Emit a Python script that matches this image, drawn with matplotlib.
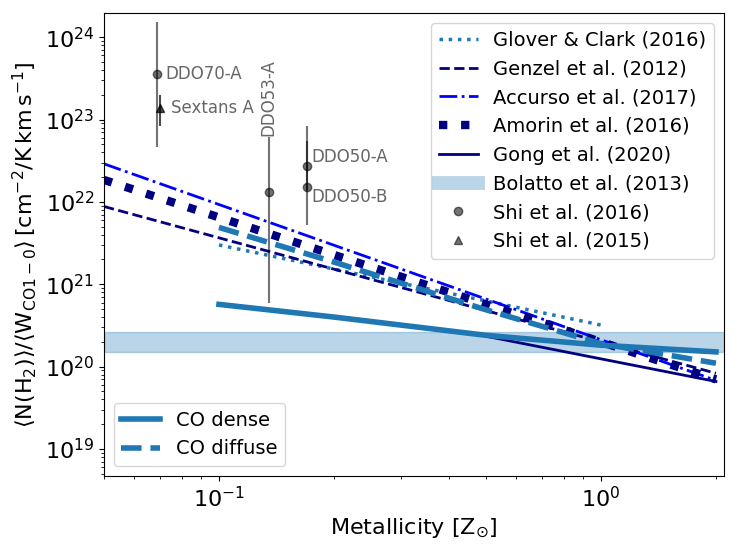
import numpy as np
import matplotlib.pyplot as plt
from matplotlib.lines import Line2D

# model relations, X_CO vs metallicity (end points of the power laws)
z_glover = [0.1, 1.0]
x_glover = [3.0e21, 3.2e20]
z_genzel = [0.05, 2.0]
x_genzel = [8.8e21, 8.3e19]
z_accurso = [0.05, 2.0]
x_accurso = [2.9e22, 6.8e19]
z_amorin = [0.05, 2.0]
x_amorin = [1.85e22, 7.0e19]
z_gong = [0.5, 2.0]
x_gong = [2.34e20, 6.6e19]
bolatto_lo, bolatto_hi = 1.5e20, 2.6e20

# simulation results
z_sim = [0.1, 0.2, 0.5, 1.0, 2.0]
x_dense = [5.7e20, 4.0e20, 2.4e20, 1.82e20, 1.51e20]
x_diffuse = [4.9e21, 1.86e21, 4.9e20, 1.9e20, 1.1e20]

# observations
shi16_names = ['DDO70-A', 'DDO53-A', 'DDO50-A', 'DDO50-B']
shi16_z = [0.0687, 0.135, 0.17, 0.17]
shi16_x = [3.57e23, 1.32e22, 2.75e22, 1.51e22]
shi16_lo = [3.11e23, 1.26e22, 1.35e22, 9.8e21]
shi16_hi = [1.17e24, 4.9e22, 2.67e22, 6.9e22]
shi15_names = ['Sextans A']
shi15_z = [0.070]
shi15_x = [1.38e23]
shi15_lo = [5.4e22]
shi15_hi = [6.2e22]

# label offsets in points (dx, dy, rotation)
label_offsets = {'DDO70-A': (6, 0, 0), 'DDO53-A': (0, 40, 90),
                 'DDO50-A': (3.5, 6.5, 0), 'DDO50-B': (3.5, -7, 0),
                 'Sextans A': (8, 0, 0)}


def main():
    fig = plt.figure(figsize=(7.37, 5.52), dpi=100)
    ax = fig.add_subplot(111)
    fig.subplots_adjust(left=0.1411, right=0.9824, top=0.9759, bottom=0.1377)

    ax.plot(z_glover, x_glover, ':', color='tab:blue', lw=2.5, label='Glover & Clark (2016)')
    ax.plot(z_genzel, x_genzel, '--', color='navy', lw=2, label='Genzel et al. (2012)')
    ax.plot(z_accurso, x_accurso, '-.', color='blue', lw=2, label='Accurso et al. (2017)')
    ax.plot(z_amorin, x_amorin, ':', color='navy', lw=6, label='Amorin et al. (2016)')
    ax.plot(z_gong, x_gong, '-', color='navy', lw=2, label='Gong et al. (2020)')
    ax.fill_between([0.05, 2.1], bolatto_lo, bolatto_hi, color='tab:blue', alpha=0.3, lw=1)
    bol_handle = Line2D([], [], color='tab:blue', alpha=0.3, lw=10, label='Bolatto et al. (2013)')

    l_dense, = ax.plot(z_sim, x_dense, '-', color='tab:blue', lw=4, label='CO dense')
    l_diff, = ax.plot(z_sim, x_diffuse, '--', color='tab:blue', lw=4, label='CO diffuse')

    ax.errorbar(shi16_z, shi16_x, yerr=[shi16_lo, shi16_hi], fmt='o', color='k',
                alpha=0.55, ms=6, elinewidth=1.5)
    ax.errorbar(shi15_z, shi15_x, yerr=[shi15_lo, shi15_hi], fmt='^', color='k',
                alpha=0.7, ms=6, elinewidth=1.5)
    for names, zs, xs in [(shi16_names, shi16_z, shi16_x), (shi15_names, shi15_z, shi15_x)]:
        for n, z, x in zip(names, zs, xs):
            dx, dy, rot = label_offsets[n]
            ax.annotate(n, (z, x), xytext=(dx, dy), textcoords='offset points',
                        ha='center' if rot else 'left', va='bottom' if rot else 'center',
                        rotation=rot, fontsize=12, color='k', alpha=0.6)
    s16 = Line2D([], [], ls='', marker='o', color='k', alpha=0.55, ms=6, label='Shi et al. (2016)')
    s15 = Line2D([], [], ls='', marker='^', color='k', alpha=0.55, ms=6, label='Shi et al. (2015)')

    ax.set_xscale('log')
    ax.set_yscale('log')
    ax.set_xlim(0.05, 2.1)
    ax.set_ylim(4.7e18, 1.95e24)
    ax.tick_params(labelsize=16)
    ax.set_xlabel(r'Metallicity [Z$_{\odot}$]', fontsize=16)
    ax.set_ylabel(r'$\langle\mathrm{N(H_2)}\rangle/\langle\mathrm{W_{CO1-0}}\rangle\,'
                  r'[\mathrm{cm^{-2}/K\,km\,s^{-1}}]$', fontsize=16)

    handles, labels = ax.get_legend_handles_labels()
    first = [h for h in handles if h not in (l_dense, l_diff)] + [bol_handle, s16, s15]
    leg1 = ax.legend(handles=first, loc='upper right', fontsize=14)
    ax.add_artist(leg1)
    ax.legend(handles=[l_dense, l_diff], loc='lower left', fontsize=14)

    plt.savefig('out.png', dpi=100)


if __name__ == '__main__':
    main()
